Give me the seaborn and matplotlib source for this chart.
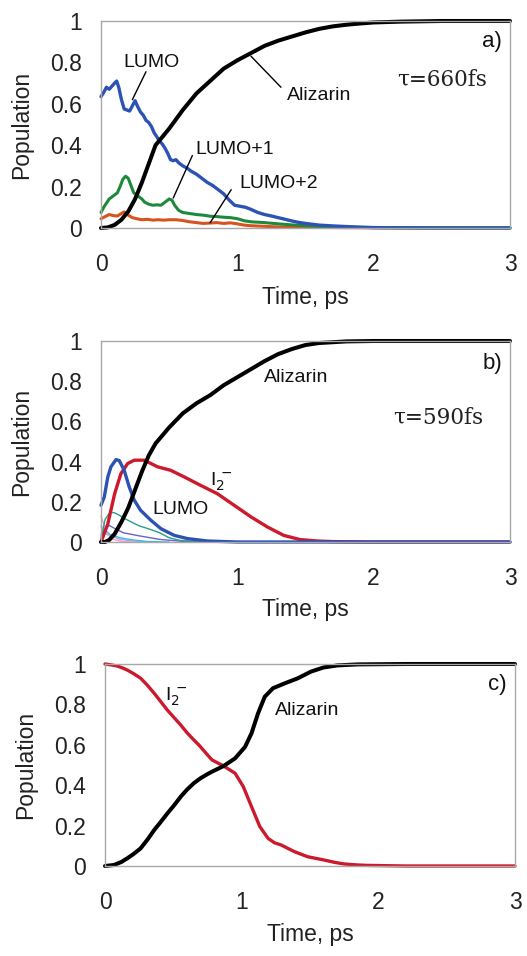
import matplotlib
matplotlib.use("Agg")
import matplotlib.pyplot as plt
import seaborn as sns

# ---------------- panel a: tau = 660 fs ----------------
t_ali_a = [0, 0.05, 0.1, 0.15, 0.2, 0.25, 0.3, 0.35, 0.4, 0.45, 0.5, 0.6, 0.7, 0.8,
           0.9, 1.0, 1.1, 1.2, 1.3, 1.4, 1.5, 1.6, 1.7, 1.8, 1.9, 2.0, 2.2, 2.5, 3.0]
ali_a = [0, 0.003, 0.015, 0.04, 0.08, 0.14, 0.22, 0.31, 0.40, 0.44, 0.48, 0.57, 0.65,
         0.71, 0.77, 0.81, 0.845, 0.88, 0.905, 0.925, 0.945, 0.962, 0.974, 0.982,
         0.988, 0.993, 0.997, 1.0, 1.0]

t_lumo_a = [0.00, 0.02, 0.04, 0.06, 0.08, 0.10, 0.115, 0.13, 0.15, 0.17, 0.19, 0.21,
            0.23, 0.25, 0.27, 0.29, 0.31, 0.33, 0.35, 0.37, 0.39, 0.41, 0.43, 0.45,
            0.47, 0.49, 0.51, 0.53, 0.55, 0.57, 0.60, 0.63, 0.66, 0.70, 0.74, 0.78,
            0.82, 0.86, 0.90, 0.94, 0.98, 1.02, 1.06, 1.10, 1.15, 1.20, 1.25, 1.30,
            1.35, 1.40, 1.45, 1.50, 1.60, 1.70, 1.80, 1.90, 2.00, 2.20, 2.50, 3.00]
lumo_a = [0.635, 0.655, 0.68, 0.67, 0.685, 0.70, 0.71, 0.68, 0.62, 0.575, 0.57, 0.565,
          0.59, 0.615, 0.585, 0.56, 0.545, 0.52, 0.51, 0.49, 0.46, 0.44, 0.42, 0.405,
          0.385, 0.36, 0.33, 0.325, 0.33, 0.315, 0.30, 0.29, 0.275, 0.26, 0.24, 0.22,
          0.205, 0.185, 0.165, 0.135, 0.11, 0.105, 0.10, 0.09, 0.075, 0.065, 0.058,
          0.05, 0.042, 0.034, 0.027, 0.022, 0.014, 0.010, 0.007, 0.004, 0.002, 0.001,
          0, 0]

t_lumo1_a = [0.00, 0.02, 0.04, 0.06, 0.08, 0.10, 0.12, 0.14, 0.16, 0.18, 0.20, 0.22,
             0.24, 0.26, 0.28, 0.30, 0.32, 0.35, 0.38, 0.41, 0.44, 0.47, 0.50, 0.52,
             0.54, 0.57, 0.60, 0.65, 0.70, 0.75, 0.80, 0.85, 0.90, 0.95, 1.00, 1.05,
             1.10, 1.20, 1.30, 1.40, 1.50, 1.60, 1.80, 2.00, 2.50, 3.00]
lumo1_a = [0.075, 0.10, 0.12, 0.14, 0.15, 0.16, 0.17, 0.20, 0.235, 0.25, 0.24, 0.205,
           0.17, 0.16, 0.15, 0.14, 0.125, 0.115, 0.11, 0.112, 0.11, 0.125, 0.14, 0.135,
           0.11, 0.085, 0.075, 0.07, 0.065, 0.062, 0.057, 0.055, 0.052, 0.05, 0.045,
           0.035, 0.03, 0.026, 0.02, 0.015, 0.011, 0.008, 0.004, 0.002, 0, 0]

t_lumo2_a = [0.00, 0.03, 0.06, 0.09, 0.12, 0.15, 0.17, 0.20, 0.23, 0.26, 0.30, 0.34,
             0.38, 0.42, 0.46, 0.50, 0.55, 0.60, 0.65, 0.70, 0.75, 0.80, 0.85, 0.90,
             0.95, 1.00, 1.05, 1.10, 1.20, 1.30, 1.50, 2.00, 3.00]
lumo2_a = [0.045, 0.055, 0.065, 0.06, 0.058, 0.07, 0.078, 0.062, 0.05, 0.045, 0.04,
           0.042, 0.038, 0.04, 0.038, 0.04, 0.04, 0.036, 0.03, 0.026, 0.022, 0.024,
           0.026, 0.022, 0.025, 0.02, 0.014, 0.011, 0.008, 0.005, 0.003, 0.001, 0]

# ---------------- panel b: tau = 590 fs ----------------
t_ali_b = [0, 0.03, 0.06, 0.1, 0.15, 0.2, 0.25, 0.3, 0.35, 0.4, 0.5, 0.6, 0.7, 0.8,
           0.9, 1.0, 1.1, 1.2, 1.3, 1.4, 1.5, 1.6, 1.8, 2.0, 3.0]
ali_b = [0, 0, 0.01, 0.04, 0.1, 0.17, 0.26, 0.35, 0.43, 0.49, 0.57, 0.64, 0.69, 0.73,
         0.78, 0.82, 0.86, 0.90, 0.935, 0.96, 0.98, 0.99, 0.998, 1.0, 1.0]

t_i2_b = [0, 0.05, 0.1, 0.146, 0.195, 0.244, 0.317, 0.415, 0.51, 0.61, 0.73, 0.854,
          0.976, 1.1, 1.22, 1.34, 1.46, 1.585, 1.7, 2.0, 3.0]
i2_b = [0, 0.09, 0.24, 0.34, 0.39, 0.407, 0.407, 0.374, 0.357, 0.324, 0.282, 0.24,
        0.183, 0.125, 0.075, 0.033, 0.012, 0.005, 0.002, 0, 0]

t_lumo_b = [0, 0.024, 0.05, 0.073, 0.11, 0.134, 0.17, 0.207, 0.244, 0.29, 0.366,
            0.44, 0.537, 0.634, 0.78, 1.0, 3.0]
lumo_b = [0.183, 0.224, 0.324, 0.374, 0.41, 0.405, 0.357, 0.274, 0.208, 0.158, 0.108,
          0.066, 0.033, 0.017, 0.005, 0, 0]

t_teal_b = [0, 0.03, 0.066, 0.1, 0.13, 0.163, 0.21, 0.25, 0.285, 0.32, 0.36, 0.43,
            0.5, 0.58, 0.7, 1.0, 3.0]
teal_b = [0.013, 0.112, 0.148, 0.145, 0.135, 0.12, 0.104, 0.09, 0.079, 0.072, 0.063,
          0.046, 0.021, 0.008, 0.002, 0, 0]

t_slate_b = [0, 0.03, 0.06, 0.09, 0.163, 0.285, 0.43, 0.6, 1.0, 3.0]
slate_b = [0.03, 0.063, 0.083, 0.071, 0.046, 0.03, 0.013, 0.003, 0, 0]

t_cyan_b = [0, 0.03, 0.066, 0.14, 0.237, 0.33, 0.5]
cyan_b = [0.04, 0.06, 0.038, 0.021, 0.01, 0.003, 0]

t_pink_b = [0, 0.017, 0.04, 0.09, 0.15, 0.25]
pink_b = [0.13, 0.096, 0.046, 0.013, 0.003, 0]

t_lav_b = [0, 0.04, 0.14, 0.25, 0.4]
lav_b = [0.08, 0.038, 0.013, 0.004, 0]

# ---------------- panel c ----------------
t_ali_c = [0, 0.066, 0.12, 0.163, 0.21, 0.26, 0.31, 0.36, 0.41, 0.456, 0.505, 0.554,
           0.60, 0.65, 0.70, 0.75, 0.783, 0.868, 0.952, 1.025, 1.072, 1.12, 1.169,
           1.229, 1.314, 1.41, 1.506, 1.60, 1.70, 1.85, 2.2, 3.0]
ali_c = [0, 0.005, 0.02, 0.038, 0.06, 0.087, 0.13, 0.178, 0.22, 0.26, 0.30, 0.343,
         0.378, 0.41, 0.435, 0.455, 0.467, 0.495, 0.533, 0.59, 0.657, 0.756, 0.838,
         0.88, 0.904, 0.929, 0.962, 0.983, 0.993, 0.998, 1.0, 1.0]

t_i2_c = [0, 0.05, 0.09, 0.13, 0.163, 0.21, 0.26, 0.31, 0.36, 0.41, 0.456, 0.505,
          0.554, 0.60, 0.65, 0.687, 0.75, 0.783, 0.868, 0.952, 1.012, 1.072, 1.133,
          1.193, 1.24, 1.289, 1.386, 1.482, 1.60, 1.68, 1.75, 1.85, 1.92, 2.2, 3.0]
i2_c = [1.0, 0.995, 0.99, 0.98, 0.97, 0.952, 0.93, 0.895, 0.855, 0.812, 0.772, 0.735,
        0.698, 0.66, 0.624, 0.599, 0.55, 0.525, 0.495, 0.459, 0.393, 0.294, 0.195,
        0.137, 0.115, 0.104, 0.071, 0.046, 0.03, 0.018, 0.01, 0.005, 0.003, 0, 0]

x_ticks = [0, 1, 2, 3]
x_ticklabels = ["0", "1", "2", "3"]
y_ticks = [0, 0.2, 0.4, 0.6, 0.8, 1.0]
y_ticklabels = ["0", "0.2", "0.4", "0.6", "0.8", "1"]

BLUE = "#2c52b3"
GREEN = "#1d8a3b"
ORANGE = "#d8521f"
RED = "#cc1a2c"
BLACK = "#000000"
FRAME_GREY = "#a8a8a8"

sns.set_style("white")
plt.rcParams["font.family"] = ["Liberation Sans", "DejaVu Sans"]

fig = plt.figure(figsize=(5.27, 9.56), dpi=100)
W, H = 527.0, 956.0
ax_a = fig.add_axes([101 / W, 1 - 228 / H, 409 / W, 207 / H])
ax_b = fig.add_axes([101 / W, 1 - 542 / H, 409 / W, 201 / H])
ax_c = fig.add_axes([105 / W, 1 - 866 / H, 410 / W, 202 / H])


def style_axes(ax):
    ax.set_xlim(0, 3)
    ax.set_ylim(0, 1)
    ax.set_xticks(x_ticks)
    ax.set_xticklabels(x_ticklabels)
    ax.set_yticks(y_ticks)
    ax.set_yticklabels(y_ticklabels)
    for s in ax.spines.values():
        s.set_color(FRAME_GREY)
        s.set_linewidth(1.0)
    ax.tick_params(axis="both", direction="out", length=4, width=0.8,
                   color=FRAME_GREY, labelsize=16.5, labelcolor="#222222")
    ax.tick_params(axis="y", pad=10)
    ax.tick_params(axis="x", pad=14)
    ax.set_xlabel("Time, ps", fontsize=16.5, color="#222222")
    ax.set_ylabel("Population", fontsize=16.5, color="#222222")
    ax.xaxis.set_label_coords(0.5, -0.28)
    ax.yaxis.set_label_coords(-0.165, 0.5)


def curve(ax, t, v, color, lw):
    sns.lineplot(x=t, y=v, ax=ax, color=color, linewidth=lw, estimator=None,
                 sort=False, clip_on=False)


def leader(ax, start, end):
    ax.annotate("", xy=end, xytext=start,
                arrowprops=dict(arrowstyle="-", color="black", lw=1.0,
                                shrinkA=0, shrinkB=0))


ann = dict(fontsize=14, ha="center", va="center", color="#111111")
tau_style = dict(fontsize=15.5, ha="center", va="center",
                 family=["DejaVu Serif"], color="#222222")
tag_style = dict(fontsize=16, ha="right", va="center", color="#111111")

# panel a
curve(ax_a, t_lumo2_a, lumo2_a, ORANGE, 2.2)
curve(ax_a, t_lumo1_a, lumo1_a, GREEN, 2.2)
curve(ax_a, t_lumo_a, lumo_a, BLUE, 2.4)
curve(ax_a, t_ali_a, ali_a, BLACK, 2.9)
style_axes(ax_a)
ax_a.text(0.37, 0.80, "LUMO", **ann)
leader(ax_a, (0.33, 0.755), (0.23, 0.62))
ax_a.text(1.60, 0.64, "Alizarin", **ann)
leader(ax_a, (1.32, 0.68), (1.10, 0.83))
ax_a.text(0.98, 0.377, "LUMO+1", **ann)
leader(ax_a, (0.67, 0.35), (0.53, 0.145))
ax_a.text(1.30, 0.217, "LUMO+2", **ann)
leader(ax_a, (0.955, 0.185), (0.80, 0.025))
ax_a.text(2.50, 0.715, "τ=660fs", **tau_style)
ax_a.text(2.94, 0.90, "a)", **tag_style)

# panel b
curve(ax_b, t_lav_b, lav_b, "#b8a0dc", 1.0)
curve(ax_b, t_pink_b, pink_b, "#f2a2c6", 1.0)
curve(ax_b, t_cyan_b, cyan_b, "#38bde8", 1.0)
curve(ax_b, t_slate_b, slate_b, "#6a64c4", 1.0)
curve(ax_b, t_teal_b, teal_b, "#2a9d8a", 1.0)
curve(ax_b, t_i2_b, i2_b, RED, 2.4)
curve(ax_b, t_lumo_b, lumo_b, BLUE, 2.4)
curve(ax_b, t_ali_b, ali_b, BLACK, 2.9)
style_axes(ax_b)
ax_b.text(1.43, 0.82, "Alizarin", **ann)
ax_b.text(2.47, 0.62, "τ=590fs", **tau_style)
ax_b.text(0.88, 0.30, r"I$_2^{\,-}$", **ann)
ax_b.text(0.58, 0.16, "LUMO", **ann)
ax_b.text(2.94, 0.89, "b)", **tag_style)

# panel c
curve(ax_c, t_i2_c, i2_c, RED, 2.4)
curve(ax_c, t_ali_c, ali_c, BLACK, 2.9)
style_axes(ax_c)
ax_c.text(0.52, 0.84, r"I$_2^{\,-}$", **ann)
ax_c.text(1.48, 0.77, "Alizarin", **ann)
ax_c.text(2.94, 0.90, "c)", **tag_style)

fig.savefig("out.png", dpi=100)
